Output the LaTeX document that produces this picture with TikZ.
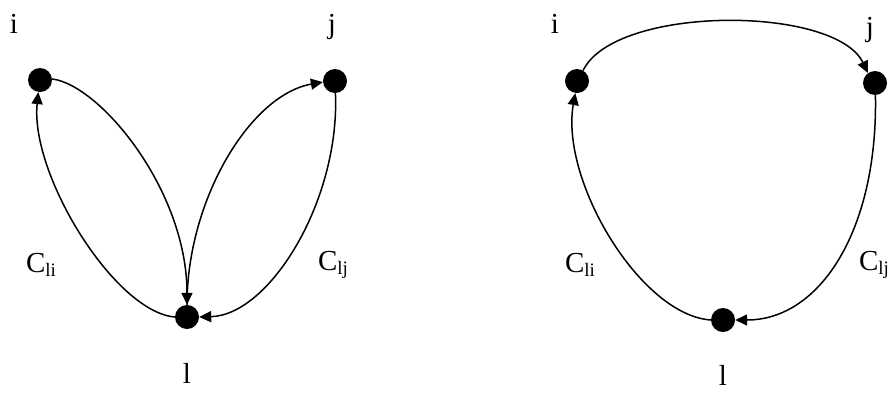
\documentclass[tikz,border=0pt]{standalone}
\usepackage{fontspec}
\setmainfont{Liberation Serif}
\usetikzlibrary{arrows.meta}
\begin{document}
\begin{tikzpicture}[x=1pt,y=-1pt,
  dot/.style={circle,fill=black,minimum size=24pt,inner sep=0pt},
  lbl/.style={inner sep=0pt,font=\fontsize{29}{31}\selectfont},
  edge/.style={line width=1.5pt,-{Triangle[length=12pt,width=11pt]}}]
\useasboundingbox (0,0) rectangle (889,397);
% left diagram
\node[dot] (i1) at (40,80) {};
\node[dot] (j1) at (335,81) {};
\node[dot] (l1) at (187,317) {};
\node[lbl] (ti1) at (14,24) {i};
\node[lbl] (tj1) at (332,27) {j};
\node[lbl] (tl1) at (187,373) {l};
\node[lbl] (cli1) at (41,265) {C\raisebox{-4pt}{\fontsize{19}{19}\selectfont li}};
\node[lbl] (clj1) at (333,265) {C\raisebox{-4pt}{\fontsize{19}{19}\selectfont lj}};
\draw[edge] (l1.180) .. controls (115,312) and (30,175) .. (i1.262);
\draw[edge] (i1.5) .. controls (100,85) and (187,190) .. (l1.90);
\draw[edge] (l1.90) .. controls (187,200) and (250,95) .. (j1.185);
\draw[edge] (j1.272) .. controls (340,200) and (270,315) .. (l1.0);
% right diagram
\node[dot] (i2) at (577,81) {};
\node[dot] (j2) at (875,83) {};
\node[dot] (l2) at (723,320) {};
\node[lbl] (ti2) at (555,24) {i};
\node[lbl] (tj2) at (870,30) {j};
\node[lbl] (tl2) at (723,375) {l};
\node[lbl] (cli2) at (580,265) {C\raisebox{-4pt}{\fontsize{19}{19}\selectfont li}};
\node[lbl] (clj2) at (874,265) {C\raisebox{-4pt}{\fontsize{19}{19}\selectfont lj}};
\draw[edge] (i2.60) .. controls (615,5) and (835,5) .. (j2.125);
\draw[edge] (l2.180) .. controls (640,315) and (560,180) .. (i2.262);
\draw[edge] (j2.272) .. controls (878,230) and (820,320) .. (l2.0);
\end{tikzpicture}
\end{document}
